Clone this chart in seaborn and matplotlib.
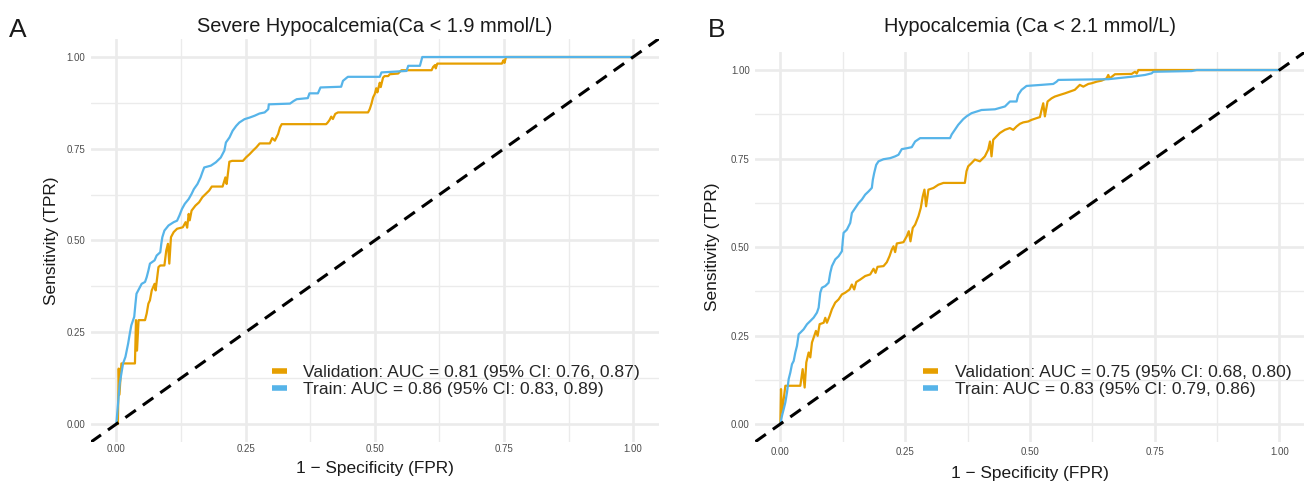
import matplotlib
matplotlib.use("Agg")
import matplotlib.pyplot as plt
from matplotlib.lines import Line2D
from matplotlib.ticker import MultipleLocator, FormatStrFormatter
import pandas as pd
import seaborn as sns

# ---------------- data ----------------
# Panel A: severe hypocalcaemia (Ca < 1.9 mmol/L)
a_val_fpr = [0.000, 0.003, 0.0046, 0.006, 0.0098, 0.036, 0.038, 0.040, 0.043, 0.0555,
             0.0587, 0.062, 0.065, 0.0685, 0.074, 0.076, 0.0815, 0.085, 0.093, 0.0966,
             0.0999, 0.1025, 0.1057, 0.111, 0.1175, 0.1286, 0.134, 0.137, 0.140, 0.142,
             0.1456, 0.153, 0.160, 0.1665, 0.173, 0.1795, 0.1847, 0.2056, 0.211, 0.2134,
             0.2187, 0.224, 0.245, 0.251, 0.258, 0.2644, 0.271, 0.2774, 0.297, 0.3016,
             0.3067, 0.313, 0.3166, 0.320, 0.406, 0.4093, 0.4126, 0.4158, 0.419, 0.4236,
             0.4288, 0.487, 0.4903, 0.4935, 0.4968, 0.500, 0.503, 0.505, 0.5097, 0.5116,
             0.516, 0.519, 0.526, 0.529, 0.5453, 0.5486, 0.5518, 0.610, 0.613, 0.6166,
             0.618, 0.621, 0.746, 0.749, 0.751, 0.754, 1.000]
a_val_tpr = [0.000, 0.000, 0.151, 0.080, 0.165, 0.165, 0.283, 0.200, 0.283, 0.283,
             0.301, 0.328, 0.337, 0.364, 0.382, 0.364, 0.4275, 0.432, 0.432, 0.473,
             0.491, 0.437, 0.509, 0.523, 0.532, 0.536, 0.550, 0.535, 0.5725, 0.555,
             0.5815, 0.595, 0.604, 0.618, 0.627, 0.636, 0.647, 0.647, 0.672, 0.654,
             0.7147, 0.717, 0.717, 0.7265, 0.7355, 0.745, 0.754, 0.7645, 0.7645, 0.779,
             0.772, 0.790, 0.808, 0.817, 0.817, 0.822, 0.8285, 0.8375, 0.831, 0.845,
             0.849, 0.849, 0.858, 0.872, 0.890, 0.899, 0.915, 0.9035, 0.930, 0.918,
             0.9436, 0.948, 0.948, 0.953, 0.955, 0.960, 0.964, 0.964, 0.973, 0.978,
             0.969, 0.982, 0.982, 0.991, 0.984, 1.000, 1.000]

a_trn_fpr = [0.000, 0.0033, 0.0065, 0.013, 0.0176, 0.0228, 0.026, 0.029, 0.0346, 0.037,
             0.039, 0.0457, 0.049, 0.0555, 0.0587, 0.062, 0.065, 0.074, 0.078, 0.085,
             0.087, 0.089, 0.093, 0.101, 0.111, 0.1175, 0.122, 0.127, 0.1325, 0.140,
             0.1456, 0.150, 0.157, 0.163, 0.1665, 0.170, 0.183, 0.1925, 0.202, 0.209,
             0.212, 0.219, 0.225, 0.232, 0.238, 0.248, 0.258, 0.2676, 0.277, 0.287,
             0.294, 0.295, 0.336, 0.343, 0.349, 0.3705, 0.3737, 0.390, 0.395, 0.435,
             0.4385, 0.448, 0.5097, 0.513, 0.5615, 0.5648, 0.5874, 0.592, 1.000]
a_trn_tpr = [0.000, 0.056, 0.110, 0.165, 0.183, 0.219, 0.246, 0.269, 0.292, 0.328,
             0.355, 0.373, 0.382, 0.387, 0.400, 0.418, 0.437, 0.446, 0.459, 0.468,
             0.491, 0.509, 0.527, 0.541, 0.550, 0.554, 0.568, 0.586, 0.600, 0.613,
             0.627, 0.640, 0.654, 0.672, 0.686, 0.699, 0.704, 0.713, 0.726, 0.745,
             0.767, 0.781, 0.799, 0.8125, 0.8215, 0.8306, 0.835, 0.840, 0.846, 0.849,
             0.858, 0.871, 0.873, 0.880, 0.885, 0.888, 0.901, 0.901, 0.917, 0.919,
             0.935, 0.946, 0.946, 0.958, 0.962, 0.976, 0.976, 1.000, 1.000]

# Panel B: hypocalcaemia (Ca < 2.1 mmol/L)
b_val_fpr = [0.000, 0.0013, 0.0033, 0.0067, 0.010, 0.040, 0.0447, 0.0487, 0.052, 0.0567,
             0.060, 0.0633, 0.0667, 0.0713, 0.0747, 0.0787, 0.0867, 0.090, 0.0933, 0.0987,
             0.1033, 0.110, 0.1167, 0.1233, 0.130, 0.1387, 0.1433, 0.148, 0.152, 0.160,
             0.170, 0.180, 0.1867, 0.1907, 0.1947, 0.2067, 0.2133, 0.2187, 0.2233, 0.2267,
             0.230, 0.2333, 0.2467, 0.2533, 0.2573, 0.2607, 0.2653, 0.270, 0.2767, 0.2813,
             0.2853, 0.2887, 0.292, 0.2967, 0.3067, 0.3167, 0.3267, 0.3697, 0.373, 0.3764,
             0.383, 0.3897, 0.3998, 0.4098, 0.4164, 0.420, 0.4231, 0.4265, 0.433, 0.4398,
             0.4499, 0.4599, 0.4666, 0.4733, 0.480, 0.4866, 0.4967, 0.503, 0.5134, 0.520,
             0.5234, 0.5267, 0.530, 0.5354, 0.5434, 0.550, 0.560, 0.570, 0.580, 0.590,
             0.600, 0.607, 0.617, 0.6236, 0.6337, 0.6437, 0.6537, 0.657, 0.660, 0.6704,
             0.7039, 0.7106, 0.714, 0.7173, 1.000]
b_val_tpr = [0.000, 0.0986, 0.033, 0.070, 0.108, 0.108, 0.155, 0.103, 0.174, 0.202,
             0.188, 0.230, 0.244, 0.263, 0.249, 0.282, 0.286, 0.300, 0.286, 0.305,
             0.324, 0.343, 0.352, 0.366, 0.371, 0.380, 0.394, 0.380, 0.401, 0.408,
             0.418, 0.4225, 0.4385, 0.427, 0.444, 0.446, 0.457, 0.474, 0.493, 0.502,
             0.4855, 0.510, 0.5136, 0.5305, 0.5446, 0.516, 0.554, 0.563, 0.587, 0.610,
             0.643, 0.662, 0.615, 0.662, 0.6667, 0.676, 0.681, 0.681, 0.714, 0.728,
             0.737, 0.747, 0.742, 0.756, 0.775, 0.798, 0.756, 0.803, 0.8124, 0.822,
             0.831, 0.836, 0.831, 0.8405, 0.848, 0.852, 0.8546, 0.859, 0.864, 0.867,
             0.8875, 0.906, 0.869, 0.911, 0.920, 0.925, 0.9296, 0.934, 0.939, 0.944,
             0.958, 0.953, 0.9606, 0.9625, 0.967, 0.970, 0.9765, 0.986, 0.9765, 0.988,
             0.989, 0.995, 0.990, 1.000, 1.000]

b_trn_fpr = [0.000, 0.0033, 0.0067, 0.010, 0.0133, 0.0167, 0.020, 0.0233, 0.0267, 0.030,
             0.0333, 0.0367, 0.040, 0.0467, 0.0533, 0.060, 0.0667, 0.0733, 0.0767, 0.080,
             0.0833, 0.090, 0.0967, 0.100, 0.1033, 0.110, 0.1167, 0.1233, 0.1253, 0.1267,
             0.1333, 0.140, 0.1433, 0.150, 0.1567, 0.1633, 0.170, 0.1767, 0.1833, 0.1853,
             0.188, 0.192, 0.1967, 0.2067, 0.220, 0.230, 0.2367, 0.2433, 0.2533, 0.2633,
             0.270, 0.280, 0.340, 0.3433, 0.3496, 0.3563, 0.3663, 0.373, 0.383, 0.403,
             0.430, 0.450, 0.460, 0.4733, 0.4766, 0.4833, 0.4933, 0.523, 0.5468, 0.5535,
             0.557, 0.657, 0.7039, 0.7306, 0.744, 0.7473, 0.824, 0.834, 1.000]
b_trn_tpr = [0.000, 0.0235, 0.042, 0.061, 0.089, 0.127, 0.1455, 0.169, 0.178, 0.202,
             0.2207, 0.2535, 0.258, 0.2676, 0.2817, 0.291, 0.3005, 0.3146, 0.3286, 0.371,
             0.385, 0.3897, 0.399, 0.427, 0.446, 0.465, 0.474, 0.488, 0.521, 0.540,
             0.549, 0.568, 0.596, 0.610, 0.624, 0.634, 0.648, 0.657, 0.667, 0.690,
             0.709, 0.732, 0.742, 0.748, 0.751, 0.756, 0.7606, 0.7765, 0.779, 0.782,
             0.798, 0.8075, 0.8075, 0.818, 0.831, 0.845, 0.861, 0.869, 0.878, 0.887,
             0.889, 0.897, 0.911, 0.911, 0.930, 0.944, 0.955, 0.958, 0.9606, 0.967,
             0.972, 0.974, 0.981, 0.986, 0.9906, 0.995, 0.997, 1.000, 1.000]

titles = ["Severe Hypocalcemia(Ca < 1.9 mmol/L)", "Hypocalcemia (Ca < 2.1 mmol/L)"]
panel_tags = ["A", "B"]
a_labels = ["Validation: AUC = 0.81 (95% CI: 0.76, 0.87)",
            "Train: AUC = 0.86 (95% CI: 0.83, 0.89)"]
b_labels = ["Validation: AUC = 0.75 (95% CI: 0.68, 0.80)",
            "Train: AUC = 0.83 (95% CI: 0.79, 0.86)"]
tick_values = [0.0, 0.25, 0.5, 0.75, 1.0]
x_label = "1 \u2212 Specificity (FPR)"
y_label = "Sensitivity (TPR)"

# ---------------- style ----------------
sns.set_theme(style="white")
plt.rcParams["font.family"] = ["Liberation Sans", "DejaVu Sans"]

VAL_COLOR = "#E69F00"
TRN_COLOR = "#56B4E9"
GRID = "#EBEBEB"

W, H = 1306, 484
fig = plt.figure(figsize=(W / 100, H / 100), dpi=100)


def px_axes(left, top, right, bottom):
    return fig.add_axes([left / W, 1 - bottom / H, (right - left) / W, (bottom - top) / H])


panels = [
    dict(ax=px_axes(90.5, 38.65, 659.0, 442.35),
         val=(a_val_fpr, a_val_tpr), trn=(a_trn_fpr, a_trn_tpr), labels=a_labels,
         title=titles[0], tag=panel_tags[0], tag_x=8.5,
         title_pad=5.0, xpad=1.5, xlabelpad=4.5, ylabelpad=5.0, leg=(0.3186, 0.152)),
    dict(ax=px_axes(755.4, 52.3, 1304.4, 441.7),
         val=(b_val_fpr, b_val_tpr), trn=(b_trn_fpr, b_trn_tpr), labels=b_labels,
         title=titles[1], tag=panel_tags[1], tag_x=707.8,
         title_pad=14.8, xpad=3.5, xlabelpad=6.5, ylabelpad=8.0, leg=(0.3053, 0.156)),
]

for p in panels:
    ax = p["ax"]
    val_lab, trn_lab = p["labels"]
    df = pd.concat([
        pd.DataFrame({"fpr": p["val"][0], "tpr": p["val"][1], "set": val_lab}),
        pd.DataFrame({"fpr": p["trn"][0], "tpr": p["trn"][1], "set": trn_lab}),
    ], ignore_index=True)

    sns.lineplot(data=df, x="fpr", y="tpr", hue="set", hue_order=[val_lab, trn_lab],
                 palette=[VAL_COLOR, TRN_COLOR], sort=False, estimator=None,
                 linewidth=1.6, legend=False, ax=ax, zorder=3)

    # chance line
    ax.axline((0, 0), slope=1, color="black", linewidth=2.2,
              linestyle=(0, (4.2, 2.8)), zorder=4)

    ax.set_xlim(-0.05, 1.05)
    ax.set_ylim(-0.05, 1.05)
    ax.set_xticks(tick_values)
    ax.set_yticks(tick_values)
    ax.xaxis.set_minor_locator(MultipleLocator(0.125))
    ax.yaxis.set_minor_locator(MultipleLocator(0.125))
    ax.xaxis.set_major_formatter(FormatStrFormatter("%.2f"))
    ax.yaxis.set_major_formatter(FormatStrFormatter("%.2f"))
    ax.grid(which="major", color=GRID, linewidth=1.9)
    ax.grid(which="minor", color=GRID, linewidth=1.0)
    ax.set_axisbelow(True)
    for s in ax.spines.values():
        s.set_visible(False)
    ax.tick_params(which="both", length=0, labelsize=7, labelcolor="#4D4D4D")
    ax.tick_params(axis="x", pad=p["xpad"])
    ax.tick_params(axis="y", pad=4.0)

    ax.set_xlabel(x_label, fontsize=12.4, color="#1A1A1A", labelpad=p["xlabelpad"])
    ax.set_ylabel(y_label, fontsize=12.4, color="#1A1A1A", labelpad=p["ylabelpad"])
    ax.set_title(p["title"], fontsize=14.4, color="#1A1A1A", pad=p["title_pad"])

    handles = [Line2D([], [], color=VAL_COLOR, linewidth=4, solid_capstyle="butt"),
               Line2D([], [], color=TRN_COLOR, linewidth=4, solid_capstyle="butt")]
    ax.legend(handles, [val_lab, trn_lab], loc="center left",
              bbox_to_anchor=p["leg"], frameon=False, fontsize=12.6,
              handlelength=0.86, handletextpad=0.95, labelspacing=0.12,
              borderpad=0, borderaxespad=0)

    fig.text(p["tag_x"] / W, 1 - 37.3 / H, p["tag"], fontsize=19, color="#1A1A1A",
             ha="left", va="baseline")

fig.savefig("out.png", dpi=100, facecolor="white")
